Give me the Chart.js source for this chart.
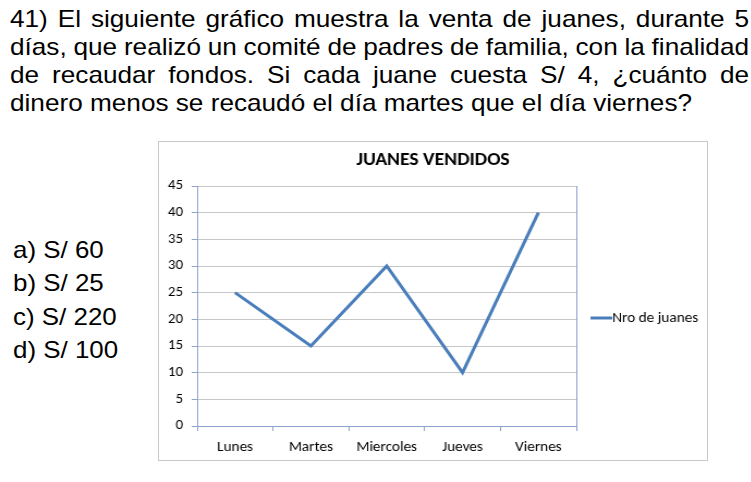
<!DOCTYPE html>
<html>
<head>
<meta charset="utf-8">
<script src="https://cdn.jsdelivr.net/npm/chart.js@4"></script>
<style>
  body { margin: 0; background: #fff; width: 751px; height: 482px; position: relative; overflow: hidden; }
  .q { position: absolute; left: 10px; top: 5px; width: 678px;
       transform: scaleX(1.09); transform-origin: 0 0;
       font-family: "Liberation Sans", Arial, sans-serif;
       font-size: 24px; line-height: 28px; color: #000; }
  .q div { text-align: justify; text-align-last: justify; white-space: nowrap; }
  .q div.apretada { word-spacing: -2px; }
  .q div.last { text-align-last: left; }
  .ans { position: absolute; left: 13px; font-family: "Liberation Sans", Arial, sans-serif;
         font-size: 24px; color: #000; line-height: 24px;
         transform: scaleX(1.08); transform-origin: 0 0; }
  #box { position: absolute; left: 158px; top: 141px; width: 550px; height: 320px;
         border: 1px solid #c8c8c8; box-sizing: border-box; }
  #wrap { position: absolute; left: 0; top: 0; width: 503px; height: 318px;
          transform: scaleX(1.0895); transform-origin: 0 0; }
</style>
</head>
<body>
<div class="q">
  <div>41) El siguiente gráfico muestra la venta de juanes, durante 5</div>
  <div class="apretada">días, que realizó un comité de padres de familia, con la finalidad</div>
  <div>de recaudar fondos. Si cada juane cuesta S/ 4, ¿cuánto de</div>
  <div class="last">dinero menos se recaudó el día martes que el día viernes?</div>
</div>
<div class="ans" style="top:238px">a) S/ 60</div>
<div class="ans" style="top:271px">b) S/ 25</div>
<div class="ans" style="top:305px">c) S/ 220</div>
<div class="ans" style="top:338px">d) S/ 100</div>

<div id="box"><div id="wrap"><canvas id="chart" width="503" height="318"></canvas></div></div>

<script>
const dias = ["Lunes", "Martes", "Miercoles", "Jueves", "Viernes"];
const juanes = [25, 15, 30, 10, 40];
const serieNombre = "Nro de juanes";
const titulo = "JUANES VENDIDOS";

const fuente = "Carlito, Lato, 'Open Sans', sans-serif";
const azul = "#4A7EBB";
const ejeColor = "#8EA4CC";
const rejilla = "#C6C6C6";

// titulo centrado en todo el cuadro y leyenda a la derecha
const textos = {
  id: "textos",
  afterDraw(chart) {
    const ctx = chart.ctx;
    const ds = chart.data.datasets[0];
    ctx.save();
    ctx.fillStyle = "#000";
    ctx.textBaseline = "middle";
    ctx.textAlign = "center";
    ctx.font = "bold 18px " + fuente;
    ctx.fillText(titulo, chart.width / 2, 18);

    const y = 176;
    ctx.strokeStyle = ds.borderColor;
    ctx.lineWidth = 3;
    ctx.beginPath();
    ctx.moveTo(396, y);
    ctx.lineTo(416, y);
    ctx.stroke();
    ctx.textAlign = "left";
    ctx.font = "14px " + fuente;
    ctx.fillText(ds.label, 416, y);
    ctx.restore();
  }
};

// borde derecho del area de trazado
const bordeDerecho = {
  id: "bordeDerecho",
  afterDraw(chart) {
    const a = chart.chartArea;
    const ctx = chart.ctx;
    ctx.save();
    ctx.strokeStyle = ejeColor;
    ctx.lineWidth = 1;
    ctx.beginPath();
    ctx.moveTo(Math.round(a.right) + 0.5, a.top);
    ctx.lineTo(Math.round(a.right) + 0.5, a.bottom);
    ctx.stroke();
    ctx.restore();
  }
};

new Chart(document.getElementById("chart"), {
  type: "line",
  data: {
    labels: dias,
    datasets: [{
      label: serieNombre,
      data: juanes,
      borderColor: azul,
      borderWidth: 3,
      pointRadius: 0,
      tension: 0,
      fill: false
    }]
  },
  options: {
    responsive: false,
    animation: false,
    layout: { padding: { left: 0, right: 120, top: 44, bottom: 0 } },
    plugins: {
      legend: { display: false },
      tooltip: { enabled: false },
      title: { display: false }
    },
    scales: {
      x: {
        offset: true,
        afterFit: s => { s.height = 34; },
        grid: { offset: true, drawOnChartArea: false, drawTicks: true, tickLength: 5, tickColor: ejeColor },
        border: { color: ejeColor, width: 1 },
        ticks: { color: "#000", font: { family: fuente, size: 14 }, padding: 8, maxRotation: 0 }
      },
      y: {
        min: 0,
        max: 45,
        afterFit: s => { s.width = 35; },
        grid: { color: rejilla, tickLength: 5, tickColor: ejeColor },
        border: { color: ejeColor, width: 1 },
        ticks: { stepSize: 5, color: "#000", font: { family: fuente, size: 13.5 }, padding: 8 }
      }
    }
  },
  plugins: [textos, bordeDerecho]
});
</script>
</body>
</html>
